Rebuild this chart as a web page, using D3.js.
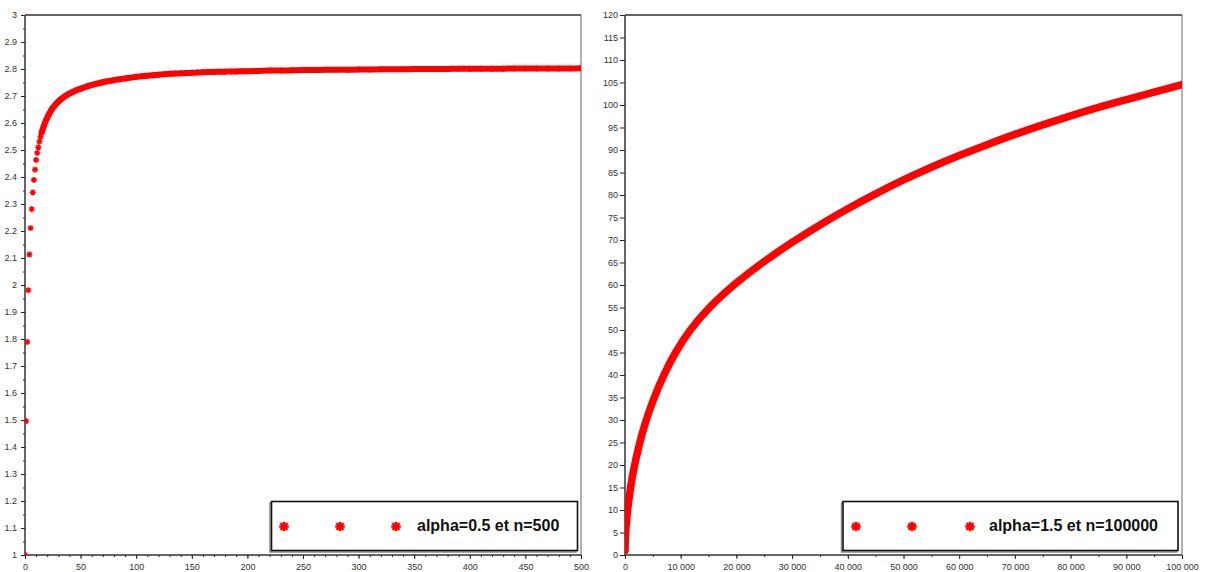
<!DOCTYPE html>
<html>
<head>
<meta charset="utf-8">
<script src="https://cdn.jsdelivr.net/npm/d3@7"></script>
<style>
  body { margin: 0; background: #fff; }
  svg { display: block; }
  .tick text { font-family: "Liberation Sans", Arial, sans-serif; font-size: 9px; fill: #333; }
  .tick line { stroke: #222; stroke-width: 1; }
</style>
</head>
<body>
<svg id="chart" width="1210" height="572"></svg>
<script>
// left plot: alpha=0.5, n=500
var leftN = [0,1,2,3,4,5,6,7,8,9,10,11,12,13,14,15,
  16,17,18,19,20,21,22,23,24,25,26,27,28,29,30,31,32,33,34,35,36,37,38,39,40,
  42,44,46,48,50,52,54,56,58,60,62,64,66,68,70,72,74,76,78,80,
  85,90,95,100,105,110,115,120,125,130,135,140,145,150,155,160,165,170,175,180,185,190,195,
  200,210,220,230,240,250,260,270,280,290,300,310,320,330,340,350,360,370,380,390,
  400,410,420,430,440,450,460,470,480,490,500];
var leftU = [1.000,1.496,1.789,1.981,2.113,2.211,2.281,2.343,2.389,2.427,2.463,2.489,2.510,2.531,2.549,2.564,
  2.578,2.590,2.601,2.611,2.620,2.628,2.636,2.643,2.650,2.656,2.661,2.666,2.671,2.675,2.679,2.683,2.687,2.690,2.693,2.696,2.699,2.702,2.704,2.707,2.709,
  2.713,2.717,2.721,2.724,2.727,2.730,2.733,2.736,2.738,2.741,2.743,2.745,2.747,2.749,2.751,2.753,2.754,2.756,2.757,2.759,
  2.762,2.765,2.768,2.771,2.773,2.775,2.777,2.779,2.781,2.782,2.783,2.784,2.785,2.786,2.787,2.788,2.789,2.789,2.790,2.790,2.791,2.791,2.792,
  2.792,2.793,2.794,2.794,2.795,2.796,2.796,2.797,2.797,2.797,2.798,2.798,2.799,2.799,2.799,2.800,2.800,2.800,2.800,2.801,
  2.801,2.801,2.801,2.801,2.802,2.802,2.802,2.802,2.802,2.802,2.803];

// right plot: alpha=1.5, n=100000
var rightN = [1,10,50,150,300,600,1000,1500,2500,3500,5000,7000,9000,11500,15000,20000,25000,30000,35000,40000,
  45000,50000,55000,60000,65000,70000,75000,80000,85000,90000,95000,100000];
var rightU = [1.0,1.5,3.3,5.7,8.1,11.4,15.1,18.8,24.4,28.9,34.4,40.2,45.0,49.8,55.0,60.6,65.3,69.5,73.4,77.0,
  80.3,83.4,86.2,88.8,91.2,93.5,95.6,97.6,99.5,101.2,102.9,104.5];

var leftXTicks = [0,50,100,150,200,250,300,350,400,450,500];
var leftYTicks = [1,1.1,1.2,1.3,1.4,1.5,1.6,1.7,1.8,1.9,2,2.1,2.2,2.3,2.4,2.5,2.6,2.7,2.8,2.9,3];
var rightXTicks = [0,10000,20000,30000,40000,50000,60000,70000,80000,90000,100000];
var rightYTicks = [0,5,10,15,20,25,30,35,40,45,50,55,60,65,70,75,80,85,90,95,100,105,110,115,120];
var legendLeft = "alpha=0.5 et n=500";
var legendRight = "alpha=1.5 et n=100000";

var svg = d3.select("#chart");
var yTop = 15, yBot = 555;

var star = function (r) {
  var d = r * 0.72;
  return "M" + (-r) + ",0L" + r + ",0M0," + (-r) + "L0," + r +
         "M" + (-d) + "," + (-d) + "L" + d + "," + d +
         "M" + (-d) + "," + d + "L" + d + "," + (-d);
};

var drawPlot = function (opt) {
  var x = d3.scaleLinear().domain(opt.xDomain).range([opt.x0, opt.x1]);
  var y = d3.scaleLinear().domain(opt.yDomain).range([yBot, yTop]);
  var g = svg.append("g");

  g.append("clipPath").attr("id", opt.id + "clip")
    .append("rect").attr("x", opt.x0).attr("y", yTop)
    .attr("width", opt.x1 - opt.x0).attr("height", yBot - yTop);

  // minor ticks
  if (opt.xMinor) {
    g.append("g").attr("transform", "translate(0," + yBot + ")")
      .call(d3.axisBottom(x).tickValues(opt.xMinor).tickSize(2).tickFormat(""))
      .call(function (a) { a.select(".domain").remove(); });
  }
  if (opt.yMinor) {
    g.append("g").attr("transform", "translate(" + opt.x0 + ",0)")
      .call(d3.axisLeft(y).tickValues(opt.yMinor).tickSize(2).tickFormat(""))
      .call(function (a) { a.select(".domain").remove(); });
  }
  g.append("g").attr("transform", "translate(0," + yBot + ")")
    .call(d3.axisBottom(x).tickValues(opt.xTicks).tickSize(4).tickPadding(5).tickFormat(opt.xFormat))
    .call(function (a) { a.select(".domain").remove(); });
  g.append("g").attr("transform", "translate(" + opt.x0 + ",0)")
    .call(d3.axisLeft(y).tickValues(opt.yTicks).tickSize(opt.yTickSize).tickPadding(opt.yPad).tickFormat(opt.yFormat))
    .call(function (a) { a.select(".domain").remove(); });

  // frame
  g.append("line").attr("x1", opt.x1).attr("x2", opt.x1).attr("y1", yTop).attr("y2", yBot)
    .style("stroke", "#999").style("stroke-width", 1.5);
  g.append("line").attr("x1", opt.x0).attr("x2", opt.x1).attr("y1", yTop).attr("y2", yTop)
    .style("stroke", "#333").style("stroke-width", 1.5);
  g.append("line").attr("x1", opt.x0).attr("x2", opt.x0).attr("y1", yTop).attr("y2", yBot)
    .style("stroke", "#333").style("stroke-width", 1.5);
  g.append("line").attr("x1", opt.x0).attr("x2", opt.x1).attr("y1", yBot).attr("y2", yBot)
    .style("stroke", "#333").style("stroke-width", 1.5);

  var pts = opt.n.map(function (d, i) { return { x: d, y: opt.u[i] }; });
  var data = g.append("g").attr("clip-path", "url(#" + opt.id + "clip)");

  var band = pts.filter(function (p) { return p.x >= opt.bandFrom; });
  data.append("path")
    .attr("d", d3.line().x(function (p) { return x(p.x); }).y(function (p) { return y(p.y); })
      .curve(opt.curve)(band))
    .style("fill", "none").style("stroke", "red")
    .style("stroke-width", opt.bandWidth).style("stroke-linecap", "round").style("stroke-linejoin", "round");

  data.selectAll("path.pt").data(opt.showPts ? pts : pts.slice(0, 1)).enter().append("path")
    .attr("class", "pt")
    .attr("d", star(opt.r))
    .attr("transform", function (p) { return "translate(" + x(p.x) + "," + y(p.y) + ")"; })
    .style("fill", "none").style("stroke", "red").style("stroke-width", 1.4);

  // legend
  var lg = g.append("g");
  lg.append("rect").attr("x", opt.lx - 1.5).attr("y", 503).attr("width", opt.lw).attr("height", 49)
    .style("fill", "none").style("stroke", "#888").style("stroke-width", 1.5);
  lg.append("rect").attr("x", opt.lx).attr("y", 501.5).attr("width", opt.lw).attr("height", 49)
    .style("fill", "#fff").style("stroke", "#111").style("stroke-width", 1.6);
  lg.selectAll("path.lstar").data(opt.starX).enter().append("path")
    .attr("class", "lstar")
    .attr("d", star(4.8))
    .attr("transform", function (d) { return "translate(" + d + ",526.5)"; })
    .style("fill", "none").style("stroke", "red").style("stroke-width", 2.4);
  lg.append("text").attr("x", opt.tx).attr("y", 531)
    .style("font-family", "'Liberation Sans', Arial, sans-serif")
    .style("font-weight", "bold").style("font-size", "16px").style("fill", "#111")
    .text(opt.label);
};

drawPlot({
  id: "left", x0: 25, x1: 581, xDomain: [0, 500], yDomain: [1, 3],
  n: leftN, u: leftU, bandFrom: 15, bandWidth: 6, r: 3, showPts: true, curve: d3.curveMonotoneX,
  xTicks: leftXTicks, xMinor: d3.range(0, 501, 10), xFormat: d3.format("d"),
  yTicks: leftYTicks, yMinor: d3.range(20, 61).map(function (d) { return d / 20; }),
  yTickSize: 4, yPad: 4,
  yFormat: function (d) { return String(+d.toFixed(1)); },
  lx: 271.5, lw: 306, starX: [284, 340, 396], tx: 417, label: legendLeft
});

drawPlot({
  id: "right", x0: 625, x1: 1182, xDomain: [0, 100000], yDomain: [0, 120],
  n: rightN, u: rightU, bandFrom: 0, bandWidth: 7.5, r: 3.5, showPts: false, curve: d3.curveBasis,
  xTicks: rightXTicks, xMinor: d3.range(0, 100001, 5000),
  xFormat: function (d) { return d3.format(",")(d).replace(/,/g, " "); },
  yTicks: rightYTicks, yMinor: null, yTickSize: 5, yPad: 2,
  yFormat: d3.format("d"),
  lx: 843, lw: 335, starX: [856, 912, 970], tx: 989, label: legendRight
});
</script>
</body>
</html>
